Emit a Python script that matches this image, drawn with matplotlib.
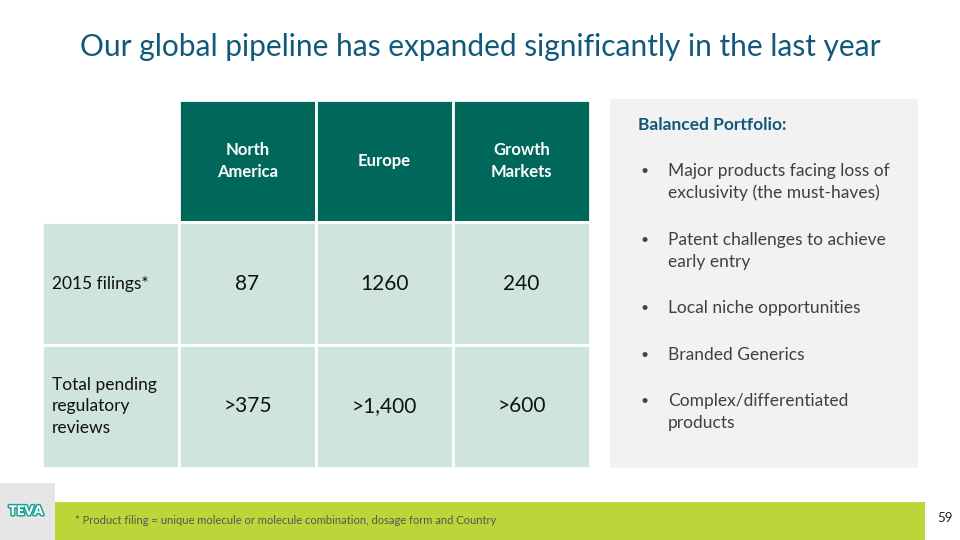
import matplotlib.pyplot as plt
import matplotlib.patheffects as pe
from matplotlib.patches import Rectangle

plt.rcParams['font.family'] = ['Lato', 'DejaVu Sans']

# Table content
col_headers = ["North\nAmerica", "Europe", "Growth\nMarkets"]
row_labels = ["2015 filings*", "Total pending\nregulatory\nreviews"]
filings_2015 = ["87", "1260", "240"]
pending_reviews = [">375", ">1,400", ">600"]
cell_values = [filings_2015, pending_reviews]

# Side panel text
panel_title = "Balanced Portfolio:"
bullets = [
    ["Major products facing loss of", "exclusivity (the must-haves)"],
    ["Patent challenges to achieve", "early entry"],
    ["Local niche opportunities"],
    ["Branded Generics"],
    ["Complex/differentiated", "products"],
]
bullet_y = [171, 240, 308, 355, 401]

title = "Our global pipeline has expanded significantly in the last year"
footnote = "* Product filing = unique molecule or molecule combination, dosage form and Country"
page_no = "59"

fig = plt.figure(figsize=(9.6, 5.4), dpi=100)
ax = fig.add_axes([0, 0, 1, 1])
ax.set_xlim(0, 960)
ax.set_ylim(540, 0)
ax.axis("off")

ax.text(480, 47, title, ha="center", va="center", fontsize=21.5, color="#11597a")

# Table geometry
x_edges = [42, 179, 316, 453, 590]
y_edges = [100, 222, 345, 468]
header_color = "#00685b"
body_color = "#cfe3df"

for j, label in enumerate(col_headers):
    x0, x1 = x_edges[j + 1], x_edges[j + 2]
    ax.add_patch(Rectangle((x0, y_edges[0]), x1 - x0, y_edges[1] - y_edges[0],
                           facecolor=header_color, edgecolor="white", linewidth=2))
    ax.text((x0 + x1) / 2, (y_edges[0] + y_edges[1]) / 2, label, ha="center", va="center",
            fontsize=12, color="white", weight="bold", linespacing=1.45)

for i, label in enumerate(row_labels):
    y0, y1 = y_edges[i + 1], y_edges[i + 2]
    for j in range(4):
        x0, x1 = x_edges[j], x_edges[j + 1]
        ax.add_patch(Rectangle((x0, y0), x1 - x0, y1 - y0,
                               facecolor=body_color, edgecolor="white", linewidth=2))
    ax.text(x_edges[0] + 10, (y0 + y1) / 2, label, ha="left", va="center",
            fontsize=12.5, color="#111111", linespacing=1.45)
    for j, val in enumerate(cell_values[i]):
        ax.text((x_edges[j + 1] + x_edges[j + 2]) / 2, (y0 + y1) / 2, val,
                ha="center", va="center", fontsize=15, color="#111111")

# Right panel
ax.add_patch(Rectangle((610, 99), 308, 369, facecolor="#f2f2f2", edgecolor="none"))
ax.text(638, 125, panel_title, ha="left", va="center", fontsize=12.5,
        color="#11597a", weight="bold")
for y, lines in zip(bullet_y, bullets):
    ax.text(641, y, "\u2022", ha="left", va="center", fontsize=10, color="#444444")
    for k, line in enumerate(lines):
        ax.text(668, y + k * 22, line, ha="left", va="center", fontsize=12.5,
                color="#404040")

# Footer
ax.add_patch(Rectangle((0, 483), 55, 57, facecolor="#e6e6e6", edgecolor="none"))
ax.add_patch(Rectangle((55, 502), 870, 38, facecolor="#bcd63a", edgecolor="none"))
ax.text(26, 511, "TEVA", ha="center", va="center", fontsize=9.5, weight="heavy",
        color="white", path_effects=[pe.withStroke(linewidth=2.2, foreground="#1aa294")])
ax.text(75, 521, footnote, ha="left", va="center", fontsize=8, color="#555555")
ax.text(945, 518, page_no, ha="center", va="center", fontsize=9.5, color="#222222")

fig.savefig("out.png", dpi=100)
